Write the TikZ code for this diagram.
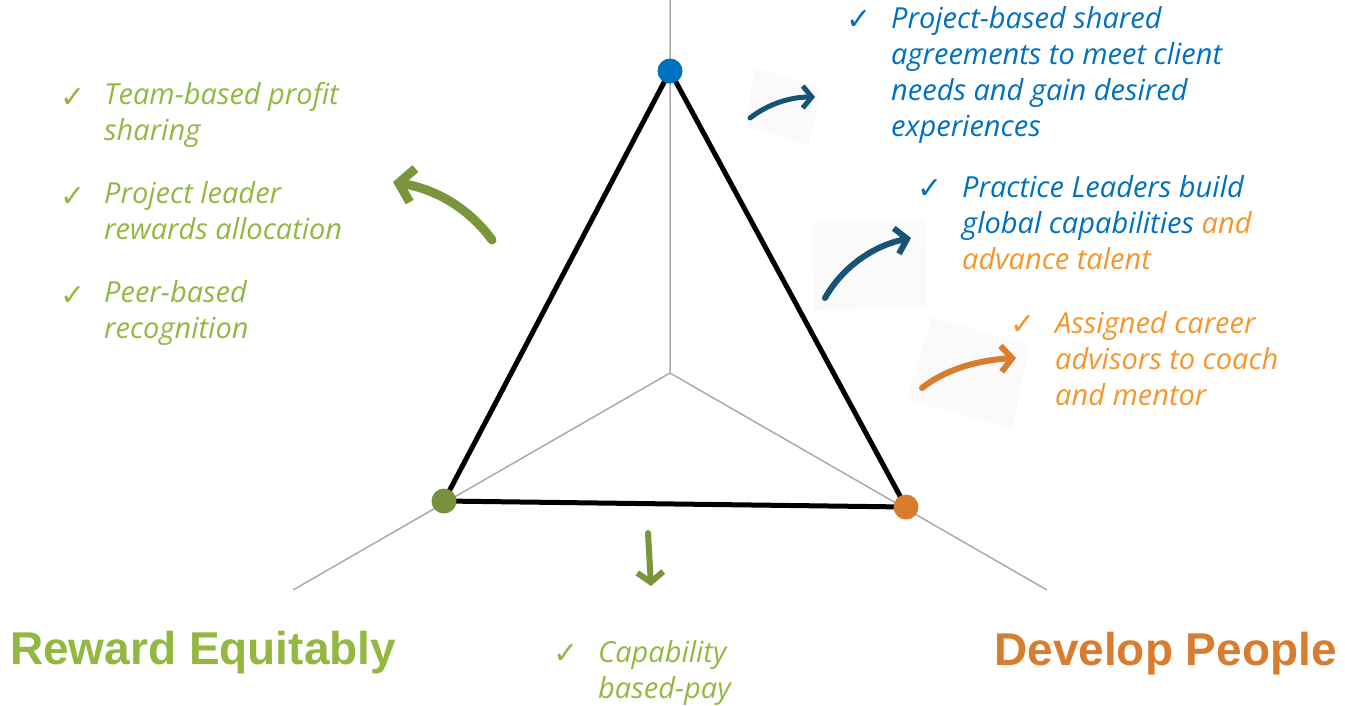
\documentclass[tikz,border=0pt]{standalone}
\usepackage{fontspec}
\setmainfont{Open Sans}
\newfontfamily\headfont{Liberation Sans}
\newfontfamily\tickfont{DejaVu Sans}
\usetikzlibrary{arrows.meta}

\definecolor{rewardgreen}{RGB}{146,184,66}
\definecolor{olivedot}{RGB}{118,146,60}
\definecolor{projblue}{RGB}{0,112,192}
\definecolor{arrowblue}{RGB}{22,84,118}
\definecolor{talentorange}{RGB}{245,150,45}
\definecolor{developorange}{RGB}{216,124,48}
\definecolor{axisgray}{RGB}{170,170,170}

\tikzset{
    %Define style for the thin spokes
    axis/.style={
           draw=axisgray,
           line width=1.5pt},
    %Define style for the triangle
    tri/.style={
           draw=black,
           line width=5pt,
           line join=round},
    %corner dots
    dot/.style={
           circle,
           inner sep=0pt,
           minimum size=25pt},
    %check mark in front of each item
    checkmk/.style={
           anchor=base west,
           inner sep=0pt,
           font=\tickfont\fontsize{30}{30}\selectfont},
    %text of each item
    item/.style={
           anchor=north west,
           inner sep=0pt,
           align=left,
           font=\itshape\fontsize{29}{36}\selectfont,
           execute at begin node=\strut},
    %big headings
    head/.style={
           inner sep=0pt,
           font=\headfont\bfseries\fontsize{46}{46}\selectfont},
    %faint paper patch behind some arrows
    patch/.style={
           fill=black!2,
           draw=none},
    % Define arrow style
    pil/.style={
           line cap=round,
           line join=round}
}

\begin{document}
\begin{tikzpicture}[x=1pt,y=-1pt]

\useasboundingbox (0,0) rectangle (1345,705);

% spokes
\coordinate (hub) at (670,373);
\coordinate (up) at (670,0);
\coordinate (sw) at (293,590);
\coordinate (se) at (1047,590);
\draw[axis] (up) -- (hub) -- (sw);
\draw[axis] (hub) -- (se);

% triangle and its corners
\coordinate (T) at (670,71);
\coordinate (L) at (444,501);
\coordinate (R) at (906,507);
\draw[tri] (T) -- (L) -- (R) -- cycle;
\node[dot, fill=projblue] (top) at (T) {};
\node[dot, fill=olivedot] (left) at (L) {};
\node[dot, fill=developorange] (right) at (R) {};

% patches
\fill[patch] (755,68) -- (822,88) -- (808,145) -- (745,126) -- cycle;
\fill[patch] (812,222) -- (925,220) -- (926,308) -- (814,310) -- cycle;
\fill[patch] (932,317) -- (1030,345) -- (1012,428) -- (906,400) -- cycle;

% arrows
\coordinate (a1s) at (750,118);
\coordinate (a1e) at (815,97);
\coordinate (a2s) at (825,298);
\coordinate (a2e) at (911,238);
\coordinate (a3s) at (922,388);
\coordinate (a3e) at (1016,358);
\coordinate (a4s) at (492,240);
\coordinate (a4e) at (393,182);
\coordinate (a5s) at (648,533);
\coordinate (a5e) at (651,586);

\draw[pil, draw=arrowblue, line width=5pt, -{Straight Barb[length=9pt,width=22pt]}]
  (a1s) .. controls (768,104) and (790,97) .. (a1e);
\draw[pil, draw=arrowblue, line width=6pt, -{Straight Barb[length=11pt,width=26pt]}]
  (a2s) .. controls (842,268) and (872,246) .. (a2e);
\draw[pil, draw=developorange, line width=6pt, -{Straight Barb[length=11pt,width=26pt]}]
  (a3s) .. controls (944,370) and (978,360) .. (a3e);
\draw[pil, draw=olivedot!90!rewardgreen, line width=9pt, -{Straight Barb[length=14pt,width=34pt]}]
  (a4s) .. controls (472,212) and (440,190) .. (a4e);
\draw[pil, draw=olivedot!90!rewardgreen, line width=6pt, -{Straight Barb[length=10pt,width=26pt]}]
  (a5s) -- (a5e);

% reward items
\node[checkmk, text=rewardgreen] (c1) at (60,107) {✓};
\node[item, text=rewardgreen] (g1) at (104,82) {Team-based profit\\sharing};
\node[checkmk, text=rewardgreen] (c2) at (60,206) {✓};
\node[item, text=rewardgreen] (g2) at (104,181) {Project leader\\rewards allocation};
\node[checkmk, text=rewardgreen] (c3) at (60,305) {✓};
\node[item, text=rewardgreen] (g3) at (104,280) {Peer-based\\recognition};

% project and practice items
\node[checkmk, text=projblue] (c4) at (846,29) {✓};
\node[item, text=projblue] (b1) at (891,6) {Project-based shared\\agreements to meet client\\needs and gain desired\\experiences};
\node[checkmk, text=projblue] (c5) at (917,198) {✓};
\node[item, text=projblue] (b2) at (962,175) {Practice Leaders build\\global capabilities {\color{talentorange}and}\\{\color{talentorange}advance talent}};

% people items
\node[checkmk, text=talentorange] (c6) at (1010,334) {✓};
\node[item, text=talentorange] (o1) at (1055,311) {Assigned career\\advisors to coach\\and mentor};

% pay item
\node[checkmk, text=rewardgreen] (c7) at (553,663) {✓};
\node[item, text=rewardgreen] (p1) at (598,640) {Capability\\based-pay};

% headings
\node[head, text=rewardgreen, anchor=base west] (reward) at (10,664) {Reward Equitably};
\node[head, text=developorange, anchor=base east] (develop) at (1337,665) {Develop People};

\end{tikzpicture}
\end{document}
